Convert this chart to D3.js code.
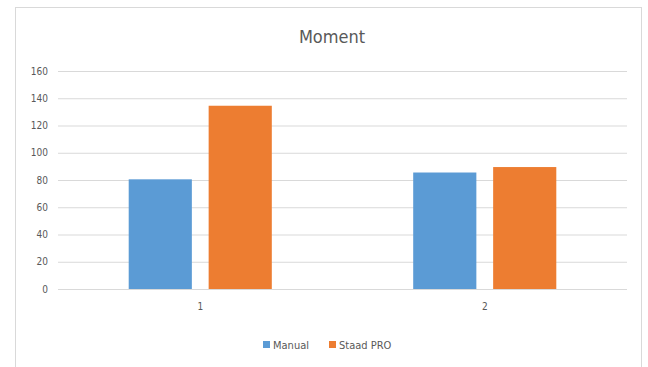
<!DOCTYPE html>
<html>
<head>
<meta charset="utf-8">
<script src="https://cdn.jsdelivr.net/npm/d3@7"></script>
<style>
  body { margin: 0; background: #fff; }
  svg { display: block; }
</style>
</head>
<body>
<svg id="chart" width="648" height="367"></svg>
<script>
// Chart data.
var categories = ['1', '2'];
var seriesNames = ['Manual', 'Staad PRO'];
var manualValues = [80.5, 85.5];
var staadValues = [134.5, 89.5];
var yTicks = [0, 20, 40, 60, 80, 100, 120, 140, 160];
var colors = ['#5b9bd5', '#ed7d31'];

var svg = d3.select('#chart');
var font = '"DejaVu Sans Condensed", "Liberation Sans", sans-serif';

// Frame of the chart area.
svg.append('rect')
    .attr('x', 15.5).attr('y', 7.5)
    .attr('width', 626).attr('height', 380)
    .attr('fill', '#fff')
    .attr('stroke', '#d9d9d9');

// Plot bounds (window.top is reserved, so use a margin object).
var plot = { left: 58, right: 627, top: 71, bottom: 289 };

var x0 = d3.scaleBand().domain(categories).range([plot.left, plot.right]).padding(0);
var groupW = x0.bandwidth() * 0.503;
var x1 = d3.scaleBand().domain(seriesNames)
    .range([-groupW / 2, groupW / 2])
    .paddingInner(0.21);
var y = d3.scaleLinear().domain([0, 160]).range([plot.bottom, plot.top]);

// Title
svg.append('text')
    .attr('x', 332).attr('y', 43)
    .attr('text-anchor', 'middle')
    .style('font-family', font).style('font-size', '18px')
    .style('fill', '#595959')
    .text('Moment');

// Gridlines + y labels via axis
var yAxis = d3.axisLeft(y).tickValues(yTicks).tickSize(-(plot.right - plot.left)).tickPadding(10);
var gy = svg.append('g')
    .attr('transform', 'translate(' + plot.left + ',0)')
    .call(yAxis);
gy.select('.domain').remove();
gy.selectAll('.tick line').attr('stroke', '#d9d9d9').attr('stroke-width', 1);
gy.selectAll('.tick text')
    .style('font-family', font).style('font-size', '10px').style('fill', '#595959');

// Category axis
var xAxis = d3.axisBottom(x0).tickSize(0).tickPadding(14);
var gx = svg.append('g')
    .attr('transform', 'translate(0,' + plot.bottom + ')')
    .call(xAxis);
gx.select('.domain').remove();
gx.selectAll('.tick text')
    .style('font-family', font).style('font-size', '10px').style('fill', '#595959');

// Bars
var rows = categories.map(function(c, i) {
    return { cat: c, values: [manualValues[i], staadValues[i]] };
});
var groups = svg.selectAll('.group').data(rows)
    .enter().append('g')
    .attr('class', 'group')
    .attr('transform', function(d) { return 'translate(' + (x0(d.cat) + x0.bandwidth() / 2) + ',0)'; });
groups.selectAll('rect')
    .data(function(d) { return d.values.map(function(v, j) { return { name: seriesNames[j], value: v, j: j }; }); })
    .enter().append('rect')
    .attr('x', function(d) { return x1(d.name); })
    .attr('width', x1.bandwidth())
    .attr('y', function(d) { return y(d.value); })
    .attr('height', function(d) { return y(0) - y(d.value); })
    .attr('fill', function(d) { return colors[d.j]; });

// Legend
var legendX = [263, 329];
var legend = svg.selectAll('.legend').data(seriesNames)
    .enter().append('g')
    .attr('class', 'legend')
    .attr('transform', function(d, i) { return 'translate(' + legendX[i] + ',341)'; });
legend.append('rect')
    .attr('width', 7).attr('height', 7)
    .attr('fill', function(d, i) { return colors[i]; });
legend.append('text')
    .attr('x', 10).attr('y', 8)
    .style('font-family', font).style('font-size', '11px').style('fill', '#595959')
    .text(function(d) { return d; });
</script>
</body>
</html>
